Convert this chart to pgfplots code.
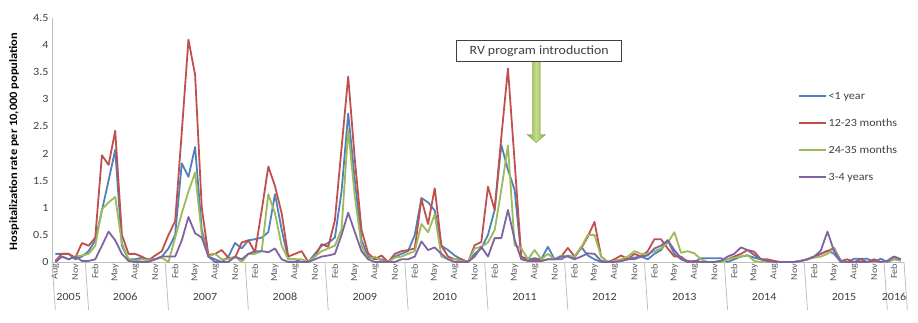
\documentclass[border=0pt]{standalone}
\usepackage{pgfplots}
\pgfplotsset{compat=1.18}
\usepackage{pgfplotstable}
\usepackage{fontspec}
\setmainfont[FakeStretch=1.1]{Carlito}
\definecolor{cB}{HTML}{4F81BD}
\definecolor{cR}{HTML}{C0504D}
\definecolor{cG}{HTML}{9BBB59}
\definecolor{cP}{HTML}{8064A2}
\definecolor{txt}{HTML}{404040}
\definecolor{axg}{HTML}{BFBFBF}
\definecolor{arL}{HTML}{C4DD8A}
\definecolor{arD}{HTML}{86A845}
\pgfplotstableread{
x b r g p
0 0.15 0.02 0.00 0.00
1 0.15 0.15 0.10 0.10
2 0.15 0.15 0.05 0.05
3 0.05 0.08 0.10 0.10
4 0.10 0.35 0.12 0.02
5 0.20 0.30 0.15 0.02
6 0.40 0.45 0.30 0.05
7 0.95 1.97 0.97 0.30
8 1.50 1.79 1.10 0.56
9 2.07 2.42 1.20 0.40
10 0.30 0.50 0.35 0.15
11 0.05 0.15 0.05 0.02
12 0.05 0.15 0.02 0.00
13 0.08 0.10 0.05 0.00
14 0.05 0.03 0.03 0.00
15 0.05 0.12 0.05 0.05
16 0.10 0.20 0.08 0.10
17 0.25 0.50 0.00 0.10
18 0.50 0.75 0.45 0.10
19 1.82 2.40 0.90 0.40
20 1.57 4.10 1.30 0.83
21 2.12 3.45 1.65 0.53
22 0.60 1.00 0.50 0.45
23 0.10 0.13 0.10 0.10
24 0.05 0.15 0.15 0.00
25 0.00 0.22 0.05 0.00
26 0.10 0.08 0.05 0.00
27 0.35 0.08 0.10 0.10
28 0.25 0.36 0.00 0.05
29 0.40 0.40 0.15 0.15
30 0.42 0.18 0.15 0.20
31 0.45 0.95 0.20 0.20
32 0.55 1.76 1.25 0.18
33 1.25 1.40 0.90 0.25
34 0.60 0.90 0.30 0.05
35 0.05 0.10 0.05 0.00
36 0.05 0.15 0.05 0.00
37 0.00 0.20 0.05 0.00
38 0.00 0.00 0.00 0.00
39 0.15 0.10 0.10 0.05
40 0.30 0.33 0.20 0.10
41 0.35 0.28 0.25 0.12
42 0.45 0.77 0.30 0.15
43 1.30 2.10 0.60 0.50
44 2.74 3.42 2.45 0.91
45 1.50 1.88 1.20 0.55
46 0.40 0.59 0.30 0.20
47 0.10 0.16 0.05 0.05
48 0.05 0.05 0.10 0.00
49 0.05 0.12 0.02 0.00
50 0.00 0.00 0.00 0.00
51 0.10 0.15 0.08 0.00
52 0.15 0.20 0.10 0.05
53 0.20 0.22 0.15 0.05
54 0.50 0.25 0.20 0.10
55 1.18 1.16 0.70 0.38
56 1.10 0.70 0.55 0.22
57 0.95 1.36 0.88 0.27
58 0.30 0.30 0.10 0.15
59 0.22 0.10 0.05 0.05
60 0.12 0.05 0.05 0.00
61 0.05 0.05 0.02 0.00
62 0.00 0.00 0.00 0.00
63 0.15 0.31 0.25 0.10
64 0.25 0.37 0.28 0.28
65 0.50 1.39 0.36 0.10
66 0.96 0.96 0.59 0.44
67 2.16 2.30 1.33 0.44
68 1.70 3.57 2.15 0.96
69 1.33 1.85 0.31 0.41
70 0.10 0.10 0.25 0.05
71 0.05 0.02 0.05 0.02
72 0.07 0.05 0.22 0.02
73 0.05 0.02 0.05 0.02
74 0.28 0.05 0.15 0.05
75 0.05 0.05 0.05 0.05
76 0.05 0.10 0.12 0.10
77 0.12 0.26 0.10 0.10
78 0.08 0.10 0.10 0.05
79 0.28 0.25 0.27 0.10
80 0.12 0.47 0.50 0.16
81 0.05 0.74 0.50 0.15
82 0.00 0.10 0.10 0.02
83 0.00 0.00 0.00 0.00
84 0.02 0.05 0.02 0.00
85 0.02 0.12 0.05 0.02
86 0.05 0.05 0.10 0.05
87 0.05 0.15 0.20 0.08
88 0.10 0.10 0.15 0.10
89 0.05 0.20 0.15 0.12
90 0.15 0.42 0.20 0.25
91 0.22 0.42 0.25 0.30
92 0.40 0.25 0.35 0.40
93 0.15 0.10 0.55 0.22
94 0.05 0.10 0.17 0.07
95 0.00 0.00 0.20 0.02
96 0.00 0.02 0.16 0.00
97 0.07 0.00 0.05 0.00
98 0.07 0.00 0.00 0.00
99 0.07 0.00 0.00 0.00
100 0.07 0.02 0.00 0.02
101 0.00 0.05 0.05 0.10
102 0.05 0.10 0.08 0.15
103 0.10 0.15 0.10 0.27
104 0.12 0.22 0.13 0.22
105 0.08 0.19 0.02 0.13
106 0.05 0.05 0.00 0.05
107 0.02 0.05 0.00 0.02
108 0.00 0.02 0.00 0.00
109 0.00 0.00 0.00 0.00
110 0.00 0.00 0.00 0.00
111 0.00 0.00 0.00 0.00
112 0.02 0.02 0.02 0.02
113 0.05 0.05 0.05 0.05
114 0.10 0.10 0.08 0.10
115 0.15 0.15 0.10 0.21
116 0.21 0.20 0.15 0.56
117 0.15 0.26 0.25 0.20
118 0.00 0.02 0.02 0.02
119 0.00 0.05 0.00 0.00
120 0.06 0.00 0.00 0.00
121 0.06 0.05 0.00 0.00
122 0.06 0.00 0.00 0.00
123 0.00 0.05 0.00 0.02
124 0.06 0.00 0.00 0.00
125 0.00 0.02 0.02 0.02
126 0.05 0.10 0.05 0.10
127 0.05 0.05 0.02 0.05
}\data
\begin{document}
\begin{tikzpicture}
\useasboundingbox (0,0) rectangle (918pt,322pt);
\begin{axis}[
  scale only axis, width=852pt, height=244pt,
  at={(52pt,60pt)}, anchor=south west,
  xmin=-0.5, xmax=127.5, ymin=0, ymax=4.5,
  clip=false,
  axis x line*=bottom, axis y line*=left,
  axis line style={axg, line width=0.8pt, -},
  major tick length=0pt,
  ytick={0,0.5,...,4.5},
  yticklabel style={font=\fontsize{11}{11}\selectfont, text=txt},
  /pgf/number format/assume math mode=true,
  /pgf/number format/fixed,
  xtick={0,3,...,126},
  xticklabels={Aug,Nov,Feb,May,Aug,Nov,Feb,May,Aug,Nov,Feb,May,Aug,Nov,Feb,May,Aug,Nov,Feb,May,Aug,Nov,Feb,May,Aug,Nov,Feb,May,Aug,Nov,Feb,May,Aug,Nov,Feb,May,Aug,Nov,Feb,May,Aug,Nov,Feb},
  xticklabel style={rotate=90, anchor=east, font=\fontsize{9.3}{9.3}\selectfont, text=txt!85, inner sep=1.5pt},
  ylabel={\bfseries Hospitalization rate per 10,000 population},
  every axis y label/.style={at={(rel axis cs:0,0.494)}, xshift=-38pt, rotate=90, anchor=center, font=\fontsize{11.3}{11.3}\selectfont},
  legend cell align=left,
  legend style={draw=none, fill=none, at={(rel axis cs:0.875,0.705)}, anchor=north west,
    font=\fontsize{11}{11}\selectfont, text=txt, row sep=14pt, inner sep=0pt},
  legend image code/.code={\draw[#1, line width=2pt] (0pt,0pt) -- (27pt,0pt);},
  every axis plot/.append style={line width=1.8pt, line join=round},
]
\addplot[cB] table[x=x, y=b] {\data};
\addplot[cR] table[x=x, y=r] {\data};
\addplot[cG] table[x=x, y=g] {\data};
\addplot[cP] table[x=x, y=p] {\data};
\legend{<1 year, 12-23 months, 24-35 months, 3-4 years}
\pgfplotsinvokeforeach{-0.5,4.5,16.5,28.5,40.5,52.5,64.5,76.5,88.5,100.5,112.5,124.5,127.5}{
  \draw[axg, line width=0.8pt] (axis cs:#1,0) -- ++(0,-48pt);
}
\foreach \yr/\xc in {2005/2,2006/10.5,2007/22.5,2008/34.5,2009/46.5,2010/58.5,2011/70.5,2012/82.5,2013/94.5,2014/106.5,2015/118.5,2016/126}{
  \edef\tmp{\noexpand\node[yshift=-35pt, text=txt, font=\noexpand\fontsize{11}{11}\noexpand\selectfont] at (axis cs:\xc,0) {\yr};}
  \tmp
}
\end{axis}
\shade[left color=arD, right color=arD, middle color=arL, draw=arD!90!black, line width=0.3pt]
  (532.3pt,261pt) -- (540.1pt,261pt) -- (540.1pt,187.5pt) -- (545.5pt,187.5pt)
  -- (536.2pt,179.3pt) -- (527pt,187.5pt) -- (532.3pt,187.5pt) -- cycle;
\node[draw=txt, fill=white, line width=0.8pt, minimum width=165pt, minimum height=21.7pt, inner sep=0pt,
  font=\fontsize{12.6}{12.6}\selectfont, text=txt] at (539.2pt,271.2pt) {RV program introduction};
\end{tikzpicture}
\end{document}
